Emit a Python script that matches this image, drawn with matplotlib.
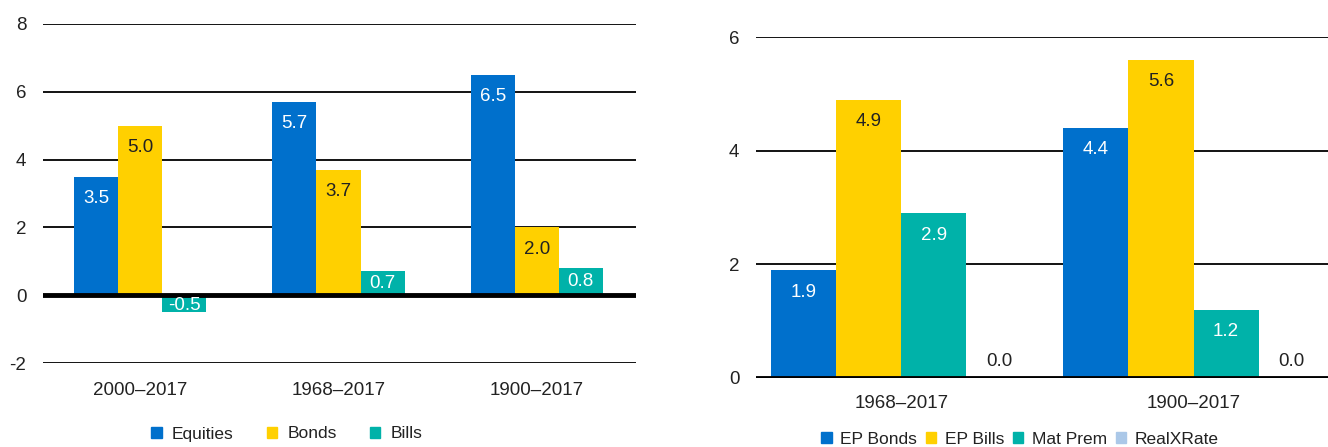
import numpy as np
import matplotlib.pyplot as plt
from matplotlib.patches import Patch

plt.rcParams['font.family'] = ['Liberation Sans', 'DejaVu Sans']

# left panel
periods_l = ['2000\u20132017', '1968\u20132017', '1900\u20132017']
equities = [3.5, 5.7, 6.5]
bonds = [5.0, 3.7, 2.0]
bills = [-0.5, 0.7, 0.8]

# right panel
periods_r = ['1968\u20132017', '1900\u20132017']
ep_bonds = [1.9, 4.4]
ep_bills = [4.9, 5.6]
mat_prem = [2.9, 1.2]
real_x = [0.0, 0.0]

BLUE = '#0070cc'
YELLOW = '#ffd000'
TEAL = '#00b2a9'
LIGHT = '#abc8e8'
TXT = '#222222'
FS = 13.5

W, H = 1328, 447
fig = plt.figure(figsize=(W / 100, H / 100), dpi=100)


def px_axes(x0, x1, ytop, ybot):
    return fig.add_axes([x0 / W, (H - ybot) / H, (x1 - x0) / W, (ybot - ytop) / H])


def style(ax, ticks):
    ax.set_yticks(ticks)
    ax.set_yticklabels([str(t) for t in ticks])
    for s in ax.spines.values():
        s.set_visible(False)
    ax.tick_params(axis='both', length=0, labelsize=FS, colors=TXT)
    ax.tick_params(axis='y', pad=12)
    ax.grid(axis='y', color='black', lw=1.3)
    ax.set_axisbelow(True)
    ax.axhline(0, color='black', lw=3.5, zorder=4)


def label_bars(ax, bars, vals, color, unit_px):
    # unit_px: pixels per data unit, used to keep labels inside the bar
    d = 22 / unit_px
    for b, v in zip(bars, vals):
        x = b.get_x() + b.get_width() / 2
        if v == 0:
            y, c = 16 / unit_px, TXT
        elif v < 0:
            y, c = v * 0.6, color
        else:
            y, c = max(v - d, v / 2), color
        ax.text(x, y, f'{v:.1f}', ha='center', va='center', color=c,
                fontsize=FS, zorder=5)


# ---- left chart
ax1 = px_axes(43, 636, 24, 363)
x = np.arange(len(periods_l))
w = 0.222
b1 = ax1.bar(x - w, equities, w, color=BLUE)
b2 = ax1.bar(x, bonds, w, color=YELLOW)
b3 = ax1.bar(x + w, bills, w, color=TEAL)
upx1 = (363 - 24) / 10
label_bars(ax1, b1, equities, 'white', upx1)
label_bars(ax1, b2, bonds, TXT, upx1)
label_bars(ax1, b3, bills, 'white', upx1)
ax1.set_xlim(-0.49, 2.5)
ax1.set_ylim(-2, 8)
style(ax1, [-2, 0, 2, 4, 6, 8])
ax1.set_xticks(x)
ax1.set_xticklabels(periods_l)
ax1.tick_params(axis='x', pad=14)

fig.legend(handles=[Patch(color=BLUE, label='Equities'), Patch(color=YELLOW, label='Bonds'),
                    Patch(color=TEAL, label='Bills')],
           loc='center', bbox_to_anchor=(287 / W, (H - 434) / H), ncol=3, frameon=False,
           fontsize=12.5, handlelength=0.6, handleheight=0.6, handletextpad=0.6,
           columnspacing=1.9, labelcolor=TXT)

# ---- right chart
ax2 = px_axes(756, 1328, 37, 378)
xr = np.arange(len(periods_r))
wr = 0.223
r1 = ax2.bar(xr - 1.5 * wr, ep_bonds, wr, color=BLUE)
r2 = ax2.bar(xr - 0.5 * wr, ep_bills, wr, color=YELLOW)
r3 = ax2.bar(xr + 0.5 * wr, mat_prem, wr, color=TEAL)
r4 = ax2.bar(xr + 1.5 * wr, real_x, wr, color=LIGHT)
upx2 = (378 - 37) / 6
label_bars(ax2, r1, ep_bonds, 'white', upx2)
label_bars(ax2, r2, ep_bills, TXT, upx2)
label_bars(ax2, r3, mat_prem, 'white', upx2)
label_bars(ax2, r4, real_x, TXT, upx2)
ax2.set_xlim(-0.497, 1.46)
ax2.set_ylim(0, 6)
style(ax2, [0, 2, 4, 6])
ax2.set_xticks(xr)
ax2.set_xticklabels(periods_r)
ax2.tick_params(axis='x', pad=12)

fig.legend(handles=[Patch(color=BLUE, label='EP Bonds'), Patch(color=YELLOW, label='EP Bills'),
                    Patch(color=TEAL, label='Mat Prem'), Patch(color=LIGHT, label='RealXRate')],
           loc='center', bbox_to_anchor=(1020 / W, (H - 439) / H), ncol=4, frameon=False,
           fontsize=12.5, handlelength=0.6, handleheight=0.6, handletextpad=0.5,
           columnspacing=0.5, labelcolor=TXT)

fig.savefig('out.png', dpi=100)
